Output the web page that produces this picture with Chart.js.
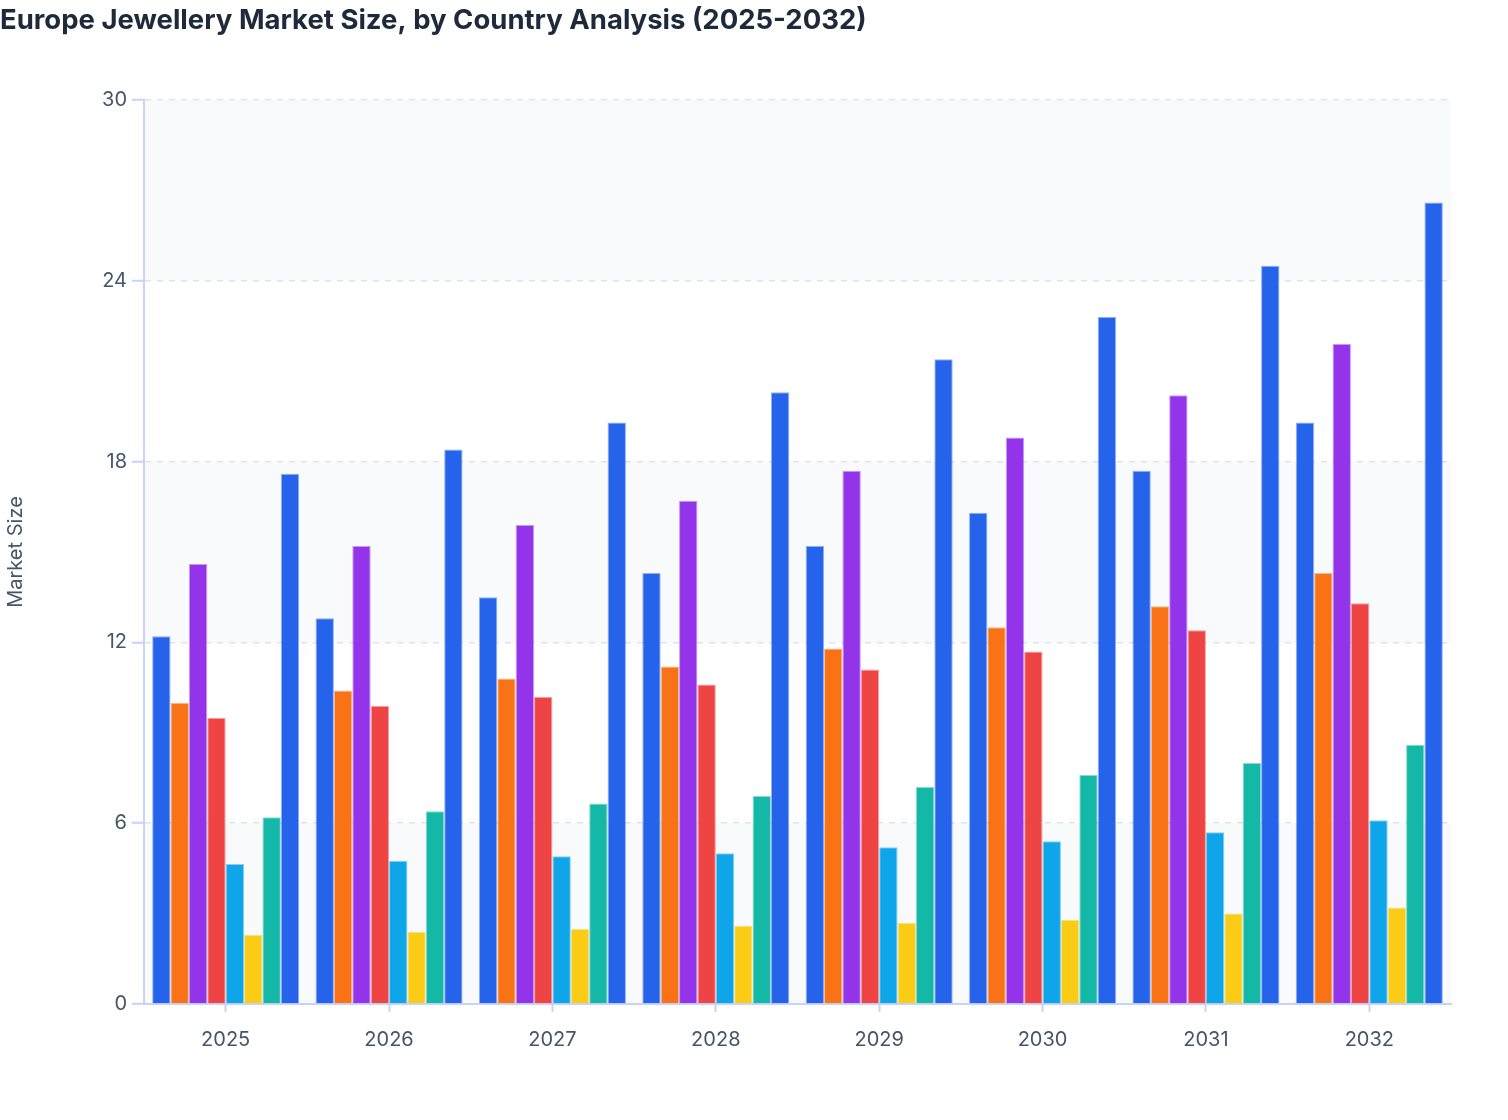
<!DOCTYPE html>
<html>
<head>
<meta charset="utf-8">
<title>Europe Jewellery Market Size</title>
<script src="https://cdn.jsdelivr.net/npm/chart.js@4.4.1/dist/chart.umd.min.js"></script>
<style>
    html, body { margin: 0; padding: 0; background: #ffffff; }
    .chart-box { position: relative; width: 1508px; height: 1120px; }
</style>
</head>
<body>
<div class="chart-box">
    <canvas id="market-chart"></canvas>
</div>
<script>
const years = ["2025", "2026", "2027", "2028", "2029", "2030", "2031", "2032"];

const seriesNames = ["Germany", "UK", "France", "Italy", "Spain", "Netherlands", "Switzerland", "Rest of Europe"];
const seriesColors = ["#2563eb", "#f97316", "#9333ea", "#ef4444", "#0ea5e9", "#facc15", "#14b8a6", "#2563eb"];

const germany     = [12.2, 12.8, 13.5, 14.3, 15.2, 16.3, 17.7, 19.3];
const uk          = [10.0, 10.4, 10.8, 11.2, 11.8, 12.5, 13.2, 14.3];
const france      = [14.6, 15.2, 15.9, 16.7, 17.7, 18.8, 20.2, 21.9];
const italy       = [9.5, 9.9, 10.2, 10.6, 11.1, 11.7, 12.4, 13.3];
const spain       = [4.65, 4.75, 4.9, 5.0, 5.2, 5.4, 5.7, 6.1];
const netherlands = [2.3, 2.4, 2.5, 2.6, 2.7, 2.8, 3.0, 3.2];
const switzerland = [6.2, 6.4, 6.65, 6.9, 7.2, 7.6, 8.0, 8.6];
const restOfEurope = [17.6, 18.4, 19.3, 20.3, 21.4, 22.8, 24.5, 26.6];

const seriesValues = [germany, uk, france, italy, spain, netherlands, switzerland, restOfEurope];

const yTicks = [0, 6, 12, 18, 24, 30];

const axisBlue = "#c7d2fe";
const labelGrey = "#475569";

// alternating light bands between the y ticks (0-6, 12-18, 24-30)
const plotBands = {
    id: "plotBands",
    beforeDraw(chart) {
        const { ctx, chartArea } = chart;
        const y = chart.scales.y;
        ctx.save();
        ctx.fillStyle = "#f8fafc";
        for (let i = 0; i < yTicks.length - 1; i += 2) {
            const top = y.getPixelForValue(yTicks[i + 1]);
            const bottom = y.getPixelForValue(yTicks[i]);
            ctx.fillRect(chartArea.left, top, chartArea.right - chartArea.left, bottom - top);
        }
        ctx.restore();
    }
};

const datasets = seriesNames.map((name, i) => ({
    label: name,
    data: seriesValues[i],
    backgroundColor: seriesColors[i],
    borderColor: seriesColors[i] + "80",
    borderWidth: 1,
    barPercentage: 1.0,
    categoryPercentage: 0.9
}));

const ctx = document.getElementById("market-chart");

new Chart(ctx, {
    type: "bar",
    data: {
        labels: years,
        datasets: datasets
    },
    plugins: [plotBands],
    options: {
        responsive: true,
        maintainAspectRatio: false,
        animation: false,
        events: [],
        layout: {
            padding: { left: 0, right: 57, top: 4, bottom: 52 }
        },
        plugins: {
            legend: { display: false },
            tooltip: { enabled: false },
            title: {
                display: true,
                text: "Europe Jewellery Market Size, by Country Analysis (2025-2032)",
                align: "start",
                color: "#1e293b",
                font: { family: "Inter", size: 27.5, weight: "700" },
                padding: { top: 0, bottom: 63 }
            }
        },
        scales: {
            x: {
                grid: {
                    offset: false,
                    drawOnChartArea: false,
                    drawTicks: true,
                    tickLength: 8,
                    tickColor: axisBlue,
                    tickWidth: 2
                },
                border: { color: axisBlue, width: 2 },
                ticks: {
                    color: labelGrey,
                    font: { family: "Inter", size: 20 },
                    padding: 16
                }
            },
            y: {
                min: 0,
                max: 30,
                afterBuildTicks(scale) {
                    scale.ticks = yTicks.map(v => ({ value: v }));
                },
                afterFit(scale) {
                    scale.width = 144;
                },
                grid: {
                    color: "#e2e1ef",
                    lineWidth: 1.5,
                    tickLength: 12,
                    tickColor: axisBlue,
                    tickBorderDash: [],
                    tickWidth: 2
                },
                border: { color: axisBlue, width: 2, dash: [6, 6] },
                ticks: {
                    color: labelGrey,
                    font: { family: "Inter", size: 20 },
                    padding: 5
                },
                title: {
                    display: true,
                    text: "Market Size",
                    color: labelGrey,
                    font: { family: "Inter", size: 20 },
                    padding: { top: 4, bottom: 0 }
                }
            }
        }
    }
});
</script>
</body>
</html>
